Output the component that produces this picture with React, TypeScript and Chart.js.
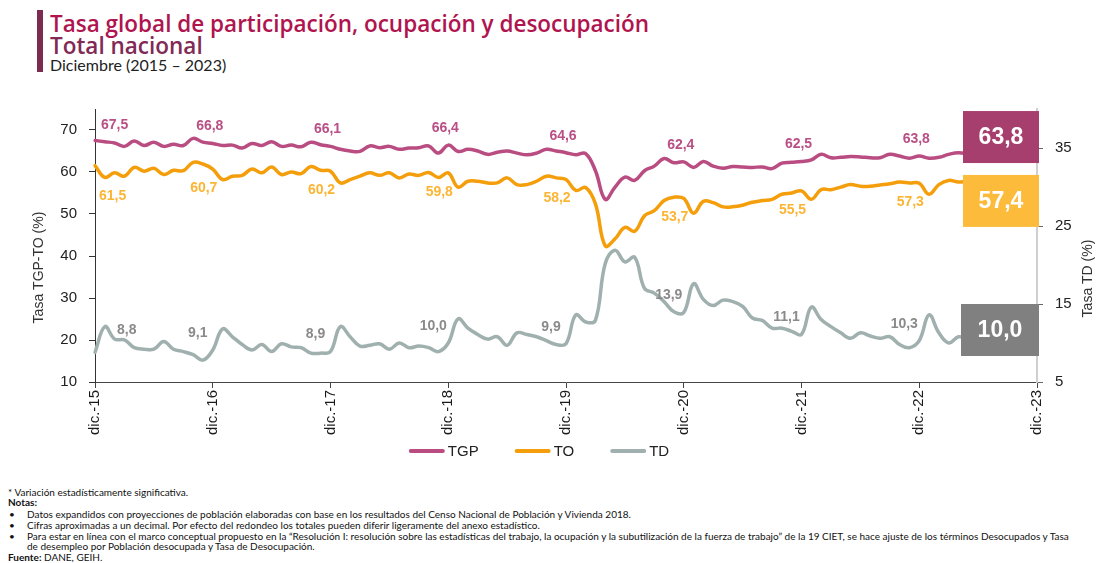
import React, { useEffect, useRef } from 'react';
import { Chart, registerables } from 'chart.js';

Chart.register(...registerables);

// ---------- DATA ----------
const MONTHS = ['ene.', 'feb.', 'mar.', 'abr.', 'may.', 'jun.', 'jul.', 'ago.', 'sep.', 'oct.', 'nov.', 'dic.'];
const N_MONTHS = 97; // dic.-15 .. dic.-23
const CATEGORIES: string[] = Array.from({ length: N_MONTHS }, (_, i) => {
  const k = 11 + i;
  return `${MONTHS[k % 12]}-${15 + Math.floor(k / 12)}`;
});

const LEFT_TICKS = [10, 20, 30, 40, 50, 60, 70];
const RIGHT_TICKS = [5, 15, 25, 35];

const TGP = [
  67.5, 67.2, 66.9, 66.1, 67.4, 66.3, 67.1, 66.1, 66.6, 66.3, 68.0, 67.1,
  66.8, 66.3, 66.4, 65.7, 66.8, 66.3, 67.2, 66.1, 66.4, 66.0, 67.1, 66.5,
  66.1, 65.4, 65.0, 64.9, 66.2, 65.8, 66.1, 65.4, 65.7, 65.8, 66.2, 64.5,
  66.4, 64.9, 65.4, 65.0, 64.2, 64.7, 65.0, 64.5, 64.1, 64.5, 65.4, 65.0,
  64.6, 64.1, 64.4, 60.3, 53.5, 56.4, 58.8, 58.0, 60.3, 61.4, 63.2, 62.2,
  62.4, 61.1, 62.5, 61.4, 60.9, 61.3, 61.2, 61.1, 61.2, 60.8, 62.1, 62.3,
  62.5, 62.9, 64.2, 63.4, 63.5, 63.7, 63.6, 63.4, 63.4, 64.2, 63.8, 63.3,
  63.8, 63.3, 63.5, 64.2, 64.6, 64.3, 64.0, 64.4, 64.1, 64.0, 64.2, 63.9,
  63.8,
];

const TO = [
  61.5, 58.7, 59.8, 59.0, 61.1, 60.2, 60.9, 59.4, 60.4, 60.3, 62.3, 61.9,
  60.7, 58.2, 59.0, 59.2, 60.7, 59.8, 61.2, 59.4, 60.0, 59.6, 61.3, 60.4,
  60.2, 57.4, 58.2, 59.0, 59.8, 59.2, 59.8, 58.6, 59.5, 59.2, 59.9, 58.7,
  59.8, 56.4, 57.8, 57.8, 57.4, 57.4, 58.6, 57.0, 57.0, 57.8, 59.0, 58.6,
  58.2, 55.6, 56.3, 52.4, 42.4, 44.1, 46.8, 45.9, 49.6, 50.8, 53.2, 54.0,
  53.7, 50.2, 53.0, 52.7, 51.7, 51.7, 52.1, 52.8, 53.2, 53.5, 54.7, 55.0,
  55.5, 53.5, 55.8, 55.8, 56.4, 57.0, 56.6, 56.6, 56.9, 57.2, 57.6, 57.4,
  57.3, 54.7, 57.0, 58.0, 57.6, 57.8, 57.5, 57.9, 58.0, 57.7, 57.5, 57.6,
  57.4,
];

const TD = [
  8.8, 12.1, 10.5, 10.4, 9.4, 9.2, 9.2, 10.2, 9.2, 8.9, 8.5, 7.8,
  9.1, 11.8, 10.8, 9.8, 9.1, 9.8, 8.9, 9.9, 9.5, 9.4, 8.7, 8.7,
  8.9, 12.1, 10.8, 9.6, 9.7, 9.9, 9.2, 10.0, 9.4, 9.6, 9.4, 8.9,
  10.0, 13.1, 11.9, 11.1, 10.5, 10.8, 9.7, 11.3, 11.1, 10.8, 10.3, 9.8,
  9.9, 13.6, 12.7, 12.9, 20.2, 21.9, 20.4, 21.0, 17.0, 16.4, 15.3, 14.0,
  13.9, 17.6, 15.6, 14.8, 15.5, 15.3, 14.7, 13.2, 12.9, 11.9, 11.9, 11.5,
  11.1, 14.6, 13.0, 12.1, 11.3, 10.6, 11.3, 10.9, 10.6, 10.8, 9.8, 9.4,
  10.3, 13.6, 11.3, 10.0, 10.8, 10.5, 10.3, 10.1, 9.9, 9.7, 9.5, 9.3,
  10.0,
];

const SERIES_NAMES = ['TGP', 'TO', 'TD'];

// ---------- STYLE ----------
const FONT = 'Arial, "Liberation Sans", Helvetica, sans-serif';
const LINE_COLORS = ['#b94d82', '#f59e0b', '#9fb0ae'];
const LABEL_COLORS = ['#b94f85', '#fbb534', '#8a8a8a'];
const BOX_COLORS = ['#a63f6d', '#fdbb3b', '#808080'];
const LABEL_OFFSETS = [
  { dx: -3, dy: -17, firstDy: -15, firstLeft: 6 },
  { dx: -9, dy: 19, firstDy: 30, firstLeft: 4 },
  { dx: -15, dy: -17, firstDy: -22, firstLeft: 22 },
];
const BOX_OFFSETS = [-19, 18, -13]; // box centre relative to last value pixel
const LABEL_STEP = 12;

const fmt = (v: number) => v.toFixed(1).replace('.', ',');

const overlayPlugin = {
  id: 'overlay',
  afterDatasetsDraw(chart: any) {
    const { ctx, chartArea } = chart;
    ctx.save();
    // December value labels
    ctx.font = `bold 14px ${FONT}`;
    ctx.textAlign = 'center';
    ctx.textBaseline = 'middle';
    const xScale = chart.scales.x;
    chart.data.datasets.forEach((ds: any, di: number) => {
      const yScale = chart.scales[ds.yAxisID];
      const o = LABEL_OFFSETS[di];
      ctx.fillStyle = LABEL_COLORS[di];
      for (let i = 0; i < ds.data.length - 1; i += LABEL_STEP) {
        const txt = fmt(ds.data[i]);
        const w = ctx.measureText(txt).width;
        let x = xScale.getPixelForValue(i) + o.dx;
        let dy = o.dy;
        if (i === 0) {
          x = Math.max(x, chartArea.left + o.firstLeft + w / 2);
          dy = o.firstDy;
        }
        const y = yScale.getPixelForValue(ds.data[i]) + dy;
        ctx.fillText(txt, x, y);
      }
    });
    // final value boxes
    chart.data.datasets.forEach((ds: any, di: number) => {
      const yScale = chart.scales[ds.yAxisID];
      const last = ds.data[ds.data.length - 1];
      const cy = yScale.getPixelForValue(last) + BOX_OFFSETS[di];
      const right = chartArea.right + 2;
      const w = di === 2 ? 78 : 76;
      const h = 52;
      ctx.fillStyle = BOX_COLORS[di];
      ctx.fillRect(right - w, cy - h / 2, w, h);
      ctx.fillStyle = '#ffffff';
      ctx.font = `bold 23px ${FONT}`;
      ctx.fillText(fmt(last), right - w / 2, cy + 1);
    });
    ctx.restore();
  },
  afterDraw(chart: any) {
    const { ctx, chartArea } = chart;
    ctx.save();
    // axis titles (both read bottom-to-top)
    ctx.fillStyle = '#333';
    ctx.font = `14px ${FONT}`;
    ctx.textAlign = 'center';
    ctx.textBaseline = 'middle';
    const midY = (chartArea.top + chartArea.bottom) / 2;
    const titles = [
      { text: 'Tasa TGP-TO (%)', x: chartArea.left - 56, y: midY + 22 },
      { text: 'Tasa TD (%)', x: chartArea.right + 51, y: midY + 33 },
    ];
    titles.forEach((t) => {
      ctx.save();
      ctx.translate(t.x, t.y);
      ctx.rotate(-Math.PI / 2);
      ctx.fillText(t.text, 0, 0);
      ctx.restore();
    });
    // legend
    ctx.font = `15px ${FONT}`;
    ctx.textAlign = 'left';
    const lineW = 36;
    const textGap = 3;
    const itemGap = 36;
    const items = chart.data.datasets.map((ds: any) => ({
      text: ds.label,
      color: ds.borderColor,
      w: lineW + textGap + ctx.measureText(ds.label).width,
    }));
    const total = items.reduce((s: number, it: any) => s + it.w, 0) + itemGap * (items.length - 1);
    let x = (chartArea.left + chartArea.right) / 2 - 27 - total / 2;
    const y = chartArea.bottom + 69;
    items.forEach((it: any) => {
      ctx.strokeStyle = it.color;
      ctx.lineWidth = 4;
      ctx.lineCap = 'round';
      ctx.beginPath();
      ctx.moveTo(x + 2, y);
      ctx.lineTo(x + lineW - 2, y);
      ctx.stroke();
      ctx.fillStyle = '#222';
      ctx.fillText(it.text, x + lineW + textGap, y + 1);
      x += it.w + itemGap;
    });
    ctx.restore();
  },
};

function ChartCanvas() {
  const ref = useRef<HTMLCanvasElement | null>(null);
  useEffect(() => {
    if (!ref.current) return;
    const series = [TGP, TO, TD];
    const chart = new Chart(ref.current, {
      type: 'line',
      data: {
        labels: CATEGORIES,
        datasets: series.map((d, i) => ({
          label: SERIES_NAMES[i],
          data: d,
          yAxisID: i === 2 ? 'y1' : 'y',
          borderColor: LINE_COLORS[i],
          backgroundColor: LINE_COLORS[i],
          borderWidth: 3.5,
          pointRadius: 0,
          pointHoverRadius: 0,
          tension: 0.4,
          borderCapStyle: 'round',
          borderJoinStyle: 'round',
          fill: false,
        })),
      },
      options: {
        animation: false,
        responsive: false,
        devicePixelRatio: 1,
        layout: { padding: { top: 0, left: 0, right: 0, bottom: 27 } },
        plugins: {
          legend: { display: false },
          tooltip: { enabled: false },
        },
        scales: {
          x: {
            type: 'category',
            grid: { display: true, drawOnChartArea: false, drawTicks: true, tickLength: 6, color: '#444' },
            border: { color: '#444', width: 1 },
            ticks: {
              autoSkip: false,
              minRotation: 90,
              maxRotation: 90,
              padding: 2,
              color: '#1a1a1a',
              font: { size: 15, family: FONT },
            },
            afterBuildTicks: (s: any) => {
              s.ticks = s.ticks.filter((t: any) => t.value % LABEL_STEP === 0);
            },
            afterFit: (s: any) => {
              s.height = 56;
            },
          },
          y: {
            position: 'left',
            min: 10,
            max: 75,
            afterBuildTicks: (s: any) => {
              s.ticks = LEFT_TICKS.map((v) => ({ value: v }));
            },
            grid: { drawOnChartArea: false, drawTicks: true, tickLength: 6, color: '#333' },
            border: { color: '#333', width: 1 },
            ticks: { padding: 12, color: '#222', font: { size: 15, family: FONT } },
            afterFit: (s: any) => {
              s.width = 95;
            },
          },
          y1: {
            position: 'right',
            min: 5,
            max: 40,
            afterBuildTicks: (s: any) => {
              s.ticks = RIGHT_TICKS.map((v) => ({ value: v }));
            },
            grid: { drawOnChartArea: false, drawTicks: true, tickLength: 6, color: '#666' },
            border: { color: '#cfcfcf', width: 2 },
            ticks: { padding: 12, color: '#222', font: { size: 15, family: FONT } },
            afterFit: (s: any) => {
              s.width = 60;
            },
          },
        },
      },
      plugins: [overlayPlugin],
    } as any);
    return () => chart.destroy();
  }, []);
  return (
    <canvas
      ref={ref}
      width={1097}
      height={377}
      style={{ position: 'absolute', left: 0, top: 88, width: 1097, height: 377 }}
    />
  );
}

const NOTE_FONT = 'Lato, "Open Sans", sans-serif';

const noteStyle = (top: number, left: number): React.CSSProperties => ({
  position: 'absolute',
  top,
  left,
  fontFamily: NOTE_FONT,
  fontSize: 10,
  lineHeight: '11px',
  color: '#111',
  whiteSpace: 'nowrap',
});

const titleStyle = (top: number, color: string): React.CSSProperties => ({
  position: 'absolute',
  left: 50,
  top,
  fontFamily: '"Open Sans", Lato, sans-serif',
  fontWeight: 600,
  fontSize: 22.5,
  lineHeight: '23px',
  color,
  whiteSpace: 'nowrap',
});

export default function App() {
  return (
    <div
      style={{
        position: 'fixed',
        left: 0,
        top: 0,
        width: 1097,
        height: 563,
        overflow: 'hidden',
        background: '#ffffff',
      }}
    >
      <div style={{ position: 'absolute', left: 37, top: 10, width: 6, height: 62, background: '#7b2c50' }} />
      <div style={titleStyle(11.5, '#b0144f')}>Tasa global de participación, ocupación y desocupación</div>
      <div style={titleStyle(34, '#812a55')}>Total nacional</div>
      <div
        style={{
          position: 'absolute',
          left: 50,
          top: 57,
          fontFamily: 'Lato, "Open Sans", sans-serif',
          fontSize: 16,
          lineHeight: '16px',
          color: '#222',
          whiteSpace: 'nowrap',
        }}
      >
        Diciembre (2015 – 2023)
      </div>

      <ChartCanvas />

      <div style={noteStyle(487, 8)}>* Variación estadísticamente significativa.</div>
      <div style={{ ...noteStyle(497, 8), fontWeight: 700 }}>Notas:</div>
      <div style={noteStyle(509, 9)}>•</div>
      <div style={noteStyle(509, 27)}>
        Datos expandidos con proyecciones de población elaboradas con base en los resultados del Censo Nacional de Población y Vivienda 2018.
      </div>
      <div style={noteStyle(520, 9)}>•</div>
      <div style={noteStyle(520, 27)}>
        Cifras aproximadas a un decimal. Por efecto del redondeo los totales pueden diferir ligeramente del anexo estadístico.
      </div>
      <div style={noteStyle(531, 9)}>•</div>
      <div style={noteStyle(531, 27)}>
        Para estar en línea con el marco conceptual propuesto en la “Resolución I: resolución sobre las estadísticas del trabajo, la ocupación y la subutilización de la fuerza de trabajo” de la 19 CIET, se hace ajuste de los términos Desocupados y Tasa
      </div>
      <div style={noteStyle(541, 27)}>de desempleo por Población desocupada y Tasa de Desocupación.</div>
      <div style={noteStyle(552, 8)}>
        <b>Fuente:</b> DANE, GEIH.
      </div>
    </div>
  );
}
